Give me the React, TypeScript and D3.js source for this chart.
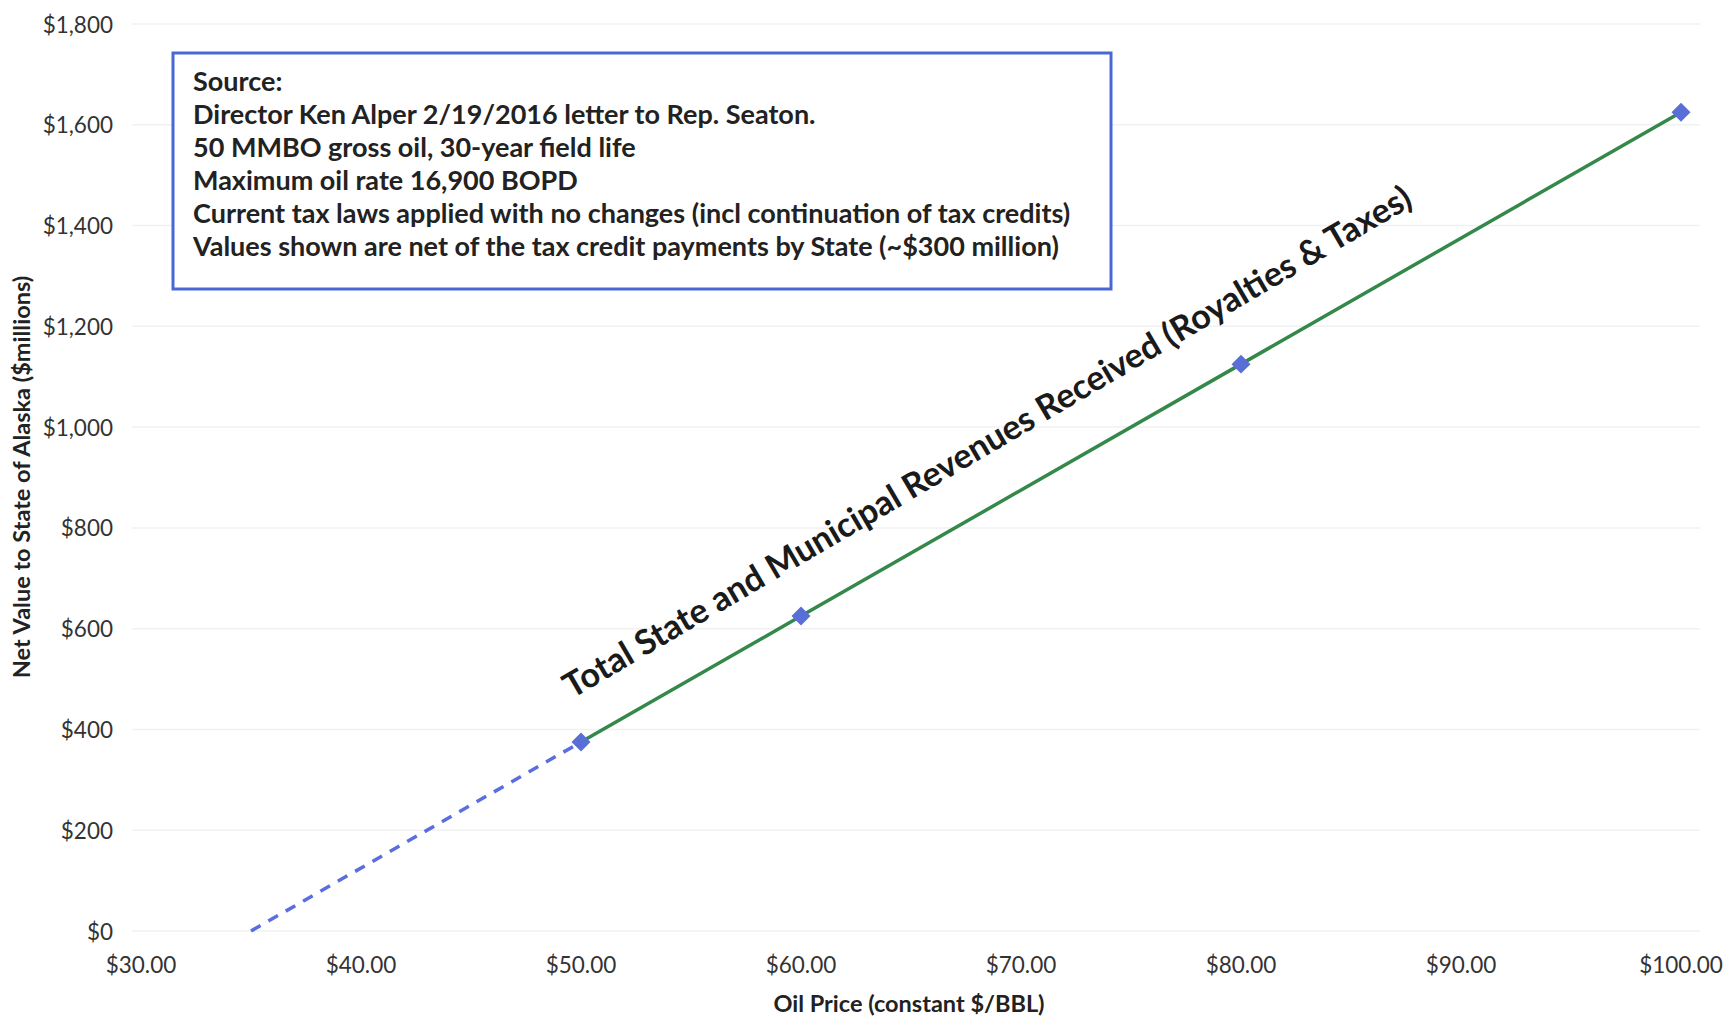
import React from "react";
import * as d3 from "d3";

const prices = [50, 60, 80, 100];
const values = [375, 625, 1125, 1625];
const extrapPrices = [35, 50];
const extrapValues = [0, 375];
const yTicks = [0, 200, 400, 600, 800, 1000, 1200, 1400, 1600, 1800];
const xTicks = [30, 40, 50, 60, 70, 80, 90, 100];
const sourceLines = [
  "Source:",
  "Director Ken Alper 2/19/2016 letter to Rep. Seaton.",
  "50 MMBO gross oil, 30-year field life",
  "Maximum oil rate 16,900 BOPD",
  "Current tax laws applied with no changes (incl continuation of tax credits)",
  "Values shown are net of the tax credit payments by State (~$300 million)",
];
const annotation = "Total State and Municipal Revenues Received (Royalties & Taxes)";
const yTitle = "Net Value to State of Alaska ($millions)";
const xTitle = "Oil Price (constant $/BBL)";

const W = 1732;
const H = 1021;
const FONT = "Lato, 'Open Sans', sans-serif";

export default function App() {
  const x = d3.scaleLinear().domain([30, 100]).range([141, 1681]);
  const y = d3.scaleLinear().domain([0, 1800]).range([931, 24]);
  const line = d3
    .line<[number, number]>()
    .x((d) => x(d[0]))
    .y((d) => y(d[1]));
  const mainPts: [number, number][] = prices.map((p, i) => [p, values[i]]);
  const extPts: [number, number][] = extrapPrices.map((p, i) => [p, extrapValues[i]]);
  const fmtY = (v: number) => "$" + d3.format(",")(v);
  const fmtX = (v: number) => "$" + d3.format(".2f")(v);
  const angle =
    (Math.atan2(y(values[3]) - y(values[0]), x(prices[3]) - x(prices[0])) * 180) / Math.PI -
    0.6;
  const diamond = d3.symbol().type(d3.symbolDiamond2).size(230);

  return (
    <div style={{ position: "absolute", left: 0, top: 0 }}>
      <svg width={W} height={H} style={{ display: "block", background: "#fff" }}>
        <rect x={0} y={0} width={W} height={H} fill="#fff" />
        {yTicks.map((t) => (
          <g key={t}>
            <line x1={132} x2={1700} y1={y(t)} y2={y(t)} stroke="#f1f1f1" strokeWidth={1.5} />
            <text
              x={113}
              y={y(t)}
              textAnchor="end"
              dominantBaseline="central"
              fontFamily={FONT}
              fontSize={22.5}
              fill="#333"
            >
              {fmtY(t)}
            </text>
          </g>
        ))}
        {xTicks.map((t) => (
          <text
            key={t}
            x={x(t)}
            y={964}
            textAnchor="middle"
            dominantBaseline="central"
            fontFamily={FONT}
            fontSize={22.5}
            fill="#333"
          >
            {fmtX(t)}
          </text>
        ))}
        <text
          transform={`translate(21,477) rotate(-90)`}
          textAnchor="middle"
          dominantBaseline="central"
          fontFamily={FONT}
          fontWeight="bold"
          fontSize={23.5}
          fill="#222"
        >
          {yTitle}
        </text>
        <text
          x={909}
          y={1003}
          textAnchor="middle"
          dominantBaseline="central"
          fontFamily={FONT}
          fontWeight="bold"
          fontSize={23.5}
          fill="#222"
        >
          {xTitle}
        </text>

        <path
          d={line(extPts) || ""}
          fill="none"
          stroke="#5b6ee0"
          strokeWidth={3.5}
          strokeDasharray="11,9"
        />
        <path d={line(mainPts) || ""} fill="none" stroke="#34884a" strokeWidth={3.5} />
        {mainPts.map((d, i) => (
          <path
            key={i}
            d={diamond() || ""}
            transform={`translate(${x(d[0])},${y(d[1])})`}
            fill="#5a6fd6"
          />
        ))}

        <text
          transform={`translate(572,699) rotate(${angle})`}
          fontFamily={FONT}
          fontWeight="bold"
          fontSize={34.3}
          fill="#1a1a1a"
        >
          {annotation}
        </text>

        <rect
          x={173}
          y={53}
          width={938}
          height={236}
          fill="#fff"
          stroke="#4a68d4"
          strokeWidth={3}
        />
        {sourceLines.map((s, i) => (
          <text
            key={i}
            x={193}
            y={91 + i * 33}
            fontFamily={FONT}
            fontWeight="bold"
            fontSize={27}
            fill="#222"
          >
            {s}
          </text>
        ))}
      </svg>
    </div>
  );
}
